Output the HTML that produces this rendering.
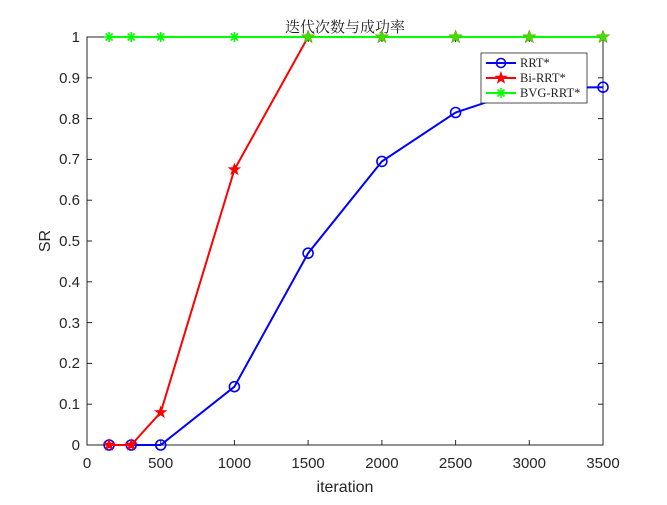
<!DOCTYPE html>
<html><head><style>body{margin:0;background:#fff}</style></head><body>
<svg width="667" height="500" xmlns="http://www.w3.org/2000/svg" font-family="Liberation Sans, sans-serif">
<defs>
<path id="star" d="M0,-7 L1.7,-2.3 L6.7,-2.2 L2.7,0.9 L4.1,5.7 L0,2.9 L-4.1,5.7 L-2.7,0.9 L-6.7,-2.2 L-1.7,-2.3Z"/>
<g id="ast" stroke="#00ff00" stroke-width="1.6"><line x1="-5" y1="0" x2="5" y2="0"/><line x1="0" y1="-5" x2="0" y2="5"/><line x1="-3.5" y1="-3.5" x2="3.5" y2="3.5"/><line x1="-3.5" y1="3.5" x2="3.5" y2="-3.5"/></g>
</defs>
<rect x="87" y="37" width="516" height="408" fill="#fff" stroke="#262626" stroke-width="1"/>
<g stroke="#262626" stroke-width="1">
<line x1="87" y1="445" x2="87" y2="440"/><line x1="160.7" y1="445" x2="160.7" y2="440"/><line x1="234.4" y1="445" x2="234.4" y2="440"/><line x1="308.1" y1="445" x2="308.1" y2="440"/><line x1="381.9" y1="445" x2="381.9" y2="440"/><line x1="455.6" y1="445" x2="455.6" y2="440"/><line x1="529.3" y1="445" x2="529.3" y2="440"/>
<line x1="160.7" y1="37" x2="160.7" y2="42"/><line x1="234.4" y1="37" x2="234.4" y2="42"/><line x1="308.1" y1="37" x2="308.1" y2="42"/><line x1="381.9" y1="37" x2="381.9" y2="42"/><line x1="455.6" y1="37" x2="455.6" y2="42"/><line x1="529.3" y1="37" x2="529.3" y2="42"/>
<line x1="87" y1="404.2" x2="92" y2="404.2"/><line x1="87" y1="363.4" x2="92" y2="363.4"/><line x1="87" y1="322.6" x2="92" y2="322.6"/><line x1="87" y1="281.8" x2="92" y2="281.8"/><line x1="87" y1="241" x2="92" y2="241"/><line x1="87" y1="200.2" x2="92" y2="200.2"/><line x1="87" y1="159.4" x2="92" y2="159.4"/><line x1="87" y1="118.6" x2="92" y2="118.6"/><line x1="87" y1="77.8" x2="92" y2="77.8"/>
<line x1="603" y1="404.2" x2="598" y2="404.2"/><line x1="603" y1="363.4" x2="598" y2="363.4"/><line x1="603" y1="322.6" x2="598" y2="322.6"/><line x1="603" y1="281.8" x2="598" y2="281.8"/><line x1="603" y1="241" x2="598" y2="241"/><line x1="603" y1="200.2" x2="598" y2="200.2"/><line x1="603" y1="159.4" x2="598" y2="159.4"/><line x1="603" y1="118.6" x2="598" y2="118.6"/><line x1="603" y1="77.8" x2="598" y2="77.8"/>
</g>
<g font-size="15" fill="#262626" text-anchor="middle">
<text x="87" y="468">0</text><text x="160.7" y="468">500</text><text x="234.4" y="468">1000</text><text x="308.1" y="468">1500</text><text x="381.9" y="468">2000</text><text x="455.6" y="468">2500</text><text x="529.3" y="468">3000</text><text x="603" y="468">3500</text>
</g>
<g font-size="15" fill="#262626" text-anchor="end">
<text x="80" y="450">0</text><text x="80" y="409">0.1</text><text x="80" y="368">0.2</text><text x="80" y="328">0.3</text><text x="80" y="287">0.4</text><text x="80" y="246">0.5</text><text x="80" y="205">0.6</text><text x="80" y="164">0.7</text><text x="80" y="124">0.8</text><text x="80" y="83">0.9</text><text x="80" y="42">1</text>
</g>
<text x="345" y="492" font-size="16" fill="#262626" text-anchor="middle">iteration</text>
<text transform="translate(50,241) rotate(-90)" font-size="16" fill="#262626" text-anchor="middle">SR</text>
<text x="345" y="32" font-size="15" fill="#222" text-anchor="middle" font-family="Liberation Serif, Noto Serif CJK SC, serif">迭代次数与成功率</text>
<polyline fill="none" stroke="#0000ff" stroke-width="2" points="109.1,445 131.2,445 160.7,445 234.4,386.7 308.1,253.2 381.9,161.4 455.6,112.5 529.3,88 603,87.2"/>
<g fill="none" stroke="#0000ff" stroke-width="1.6">
<circle cx="109.1" cy="445" r="5"/><circle cx="131.2" cy="445" r="5"/><circle cx="160.7" cy="445" r="5"/><circle cx="234.4" cy="386.7" r="5"/><circle cx="308.1" cy="253.2" r="5"/><circle cx="381.9" cy="161.4" r="5"/><circle cx="455.6" cy="112.5" r="5"/><circle cx="529.3" cy="88" r="5"/><circle cx="603" cy="87.2" r="5"/>
</g>
<polyline fill="none" stroke="#ff0000" stroke-width="2" points="109.1,445 131.2,445 160.7,412.4 234.4,169.6 308.1,37"/>
<g fill="#ff0000">
<use href="#star" x="109.1" y="445"/><use href="#star" x="131.2" y="445"/><use href="#star" x="160.7" y="412.4"/><use href="#star" x="234.4" y="169.6"/><use href="#star" x="308.1" y="37"/>
</g>
<line x1="109.1" y1="37" x2="603" y2="37" stroke="#00ff00" stroke-width="2"/>
<g><use href="#ast" x="109.1" y="37"/><use href="#ast" x="131.2" y="37"/><use href="#ast" x="160.7" y="37"/><use href="#ast" x="234.4" y="37"/></g>
<g fill="#44dd00" stroke="#669900" stroke-width="0.5">
<use href="#star" x="308.1" y="37"/><use href="#star" x="381.9" y="37"/><use href="#star" x="455.6" y="37"/><use href="#star" x="529.3" y="37"/><use href="#star" x="603" y="37"/>
</g>
<rect x="481" y="53" width="106" height="50" fill="#fff" stroke="#262626" stroke-width="0.8"/>
<line x1="486" y1="63" x2="516" y2="63" stroke="#0000ff" stroke-width="2"/><circle cx="501" cy="63" r="4.5" fill="none" stroke="#0000ff" stroke-width="1.6"/>
<line x1="486" y1="78" x2="516" y2="78" stroke="#ff0000" stroke-width="2"/><use href="#star" x="501" y="78" fill="#ff0000"/>
<line x1="486" y1="93" x2="516" y2="93" stroke="#00ff00" stroke-width="2"/><use href="#ast" x="501" y="93"/>
<g font-family="Liberation Serif, serif" font-size="12.5" fill="#222">
<text x="520" y="67">RRT*</text><text x="520" y="82">Bi-RRT*</text><text x="520" y="97">BVG-RRT*</text>
</g>
</svg>
</body></html>
